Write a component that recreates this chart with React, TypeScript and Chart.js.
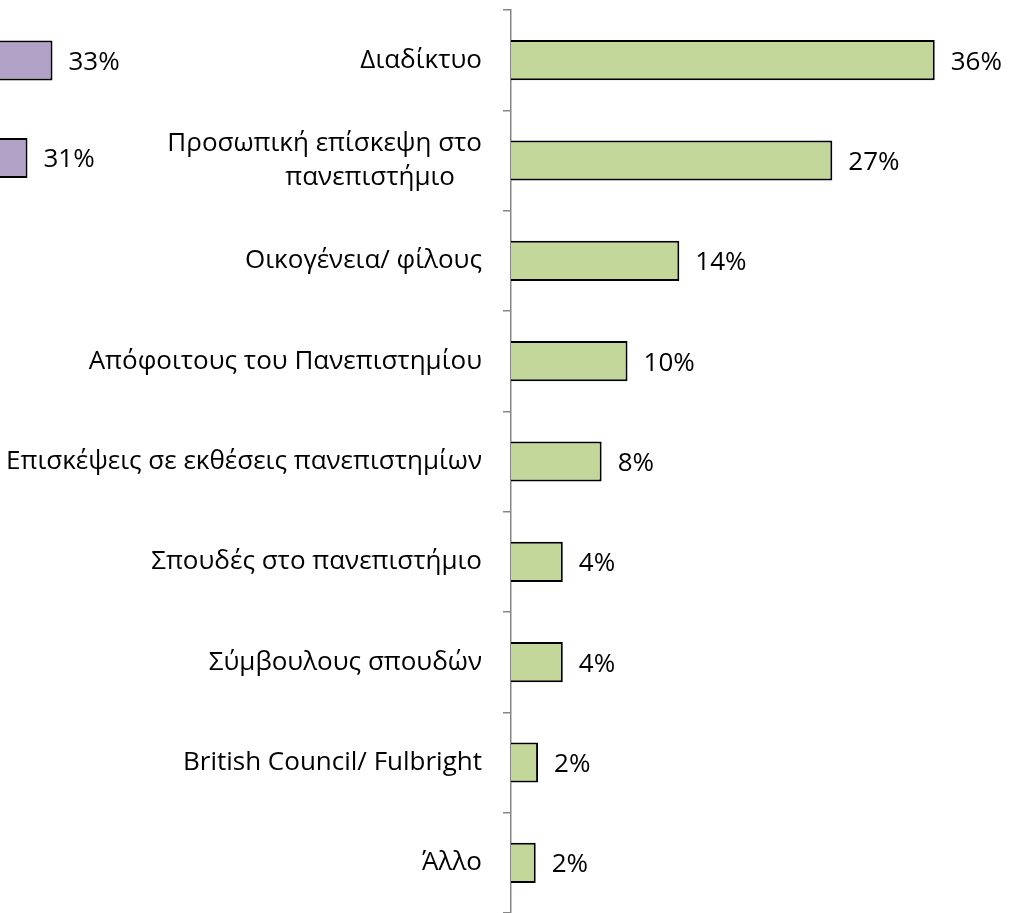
import React, { useEffect, useRef } from "react";
import { Chart, registerables } from "chart.js";

Chart.register(...registerables);

const categories: any[] = [
  "Διαδίκτυο",
  ["Προσωπική επίσκεψη στο", "πανεπιστήμιο" + "\u00a0".repeat(4)],
  "Οικογένεια/ φίλους",
  "Απόφοιτους του Πανεπιστημίου",
  "Επισκέψεις σε εκθέσεις πανεπιστημίων",
  "Σπουδές στο πανεπιστήμιο",
  "Σύμβουλους σπουδών",
  "British Council/ Fulbright",
  "Άλλο",
];

const greenValues = [36.0, 27.3, 14.3, 9.9, 7.7, 4.4, 4.4, 2.3, 2.1];
const purpleValues: (number | null)[] = [33, 31, null, null, null, null, null, null, null];

const FONT = "'Open Sans', 'Noto Sans', sans-serif";
const FONT_SIZE = 26;

const valueLabels = {
  id: "valueLabels",
  afterDatasetsDraw(chart: any) {
    const ctx = chart.ctx;
    chart.data.datasets.forEach((ds: any, i: number) => {
      const meta = chart.getDatasetMeta(i);
      meta.data.forEach((el: any, j: number) => {
        const v = ds.data[j];
        if (v == null) return;
        ctx.save();
        ctx.font = `${FONT_SIZE}px ${FONT}`;
        ctx.fillStyle = "#000";
        ctx.textAlign = "left";
        ctx.textBaseline = "middle";
        ctx.fillText(Math.round(v) + "%", el.x + 16, el.y + 2);
        ctx.restore();
      });
    });
  },
};

export default function App() {
  const greenRef = useRef<HTMLCanvasElement>(null);
  const purpleRef = useRef<HTMLCanvasElement>(null);

  useEffect(() => {
    const green = new Chart(greenRef.current!, {
      type: "bar",
      data: {
        labels: categories,
        datasets: [
          {
            data: greenValues,
            backgroundColor: "#c4d79b",
            borderColor: "#000",
            borderWidth: 2,
            borderSkipped: "start",
            barPercentage: 0.4,
            categoryPercentage: 1,
          },
        ],
      },
      options: {
        indexAxis: "y",
        responsive: false,
        animation: false,
        devicePixelRatio: 1,
        layout: { padding: { top: 10, bottom: 0, left: 0, right: 0 } },
        plugins: { legend: { display: false }, tooltip: { enabled: false } },
        scales: {
          x: { display: false, min: 0, max: 42.48 },
          y: {
            z: 1,
            afterFit: (s: any) => {
              s.width = 511;
              s.paddingTop = 0;
              s.paddingBottom = 0;
            },
            border: { display: true, color: "#868686", width: 1.5 },
            grid: {
              display: true,
              drawOnChartArea: false,
              offset: true,
              tickLength: 8,
              lineWidth: 1.5,
              color: "#868686",
            },
            ticks: {
              autoSkip: false,
              padding: 21,
              color: "#000",
              font: { family: FONT, size: FONT_SIZE, lineHeight: 1.3 },
            },
          },
        },
      },
      plugins: [valueLabels],
    });

    const purple = new Chart(purpleRef.current!, {
      type: "bar",
      data: {
        labels: categories,
        datasets: [
          {
            data: purpleValues,
            backgroundColor: "#b3a2c7",
            borderColor: "#000",
            borderWidth: 2,
            borderSkipped: "start",
            barPercentage: 0.41,
            categoryPercentage: 1,
          },
        ],
      },
      options: {
        indexAxis: "y",
        responsive: false,
        animation: false,
        devicePixelRatio: 1,
        layout: { padding: { top: 11.6, bottom: 23.4, left: 0, right: 100 } },
        plugins: { legend: { display: false }, tooltip: { enabled: false } },
        scales: {
          x: { display: false, min: 0, max: 36.8 },
          y: { display: false },
        },
      },
      plugins: [valueLabels],
    });

    return () => {
      green.destroy();
      purple.destroy();
    };
  }, []);

  return (
    <div
      style={{
        position: "fixed",
        left: 0,
        top: 0,
        width: 1011,
        height: 913,
        overflow: "hidden",
        background: "#fff",
      }}
    >
      <canvas
        ref={purpleRef}
        width={560}
        height={913}
        style={{ position: "absolute", left: -360, top: 0, width: 560, height: 913 }}
      />
      <canvas
        ref={greenRef}
        width={1011}
        height={913}
        style={{ position: "absolute", left: 0, top: 0, width: 1011, height: 913 }}
      />
    </div>
  );
}
